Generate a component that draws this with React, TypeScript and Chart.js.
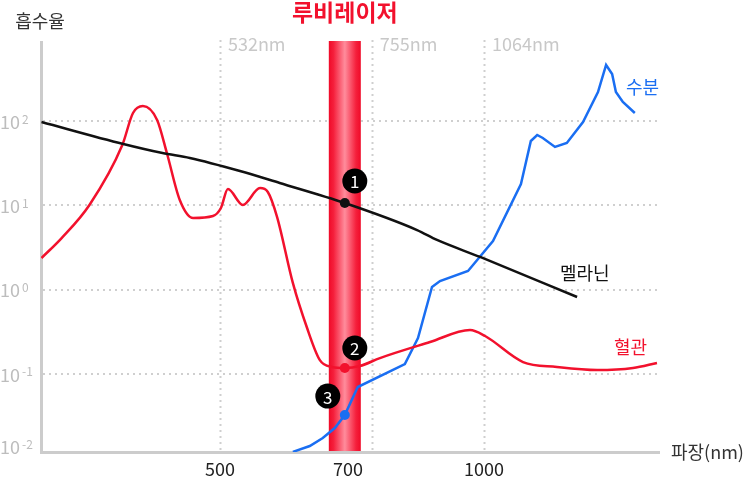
import React, { useEffect, useRef } from "react";
import { Chart, registerables } from "chart.js";

Chart.register(...registerables);

// Wavelength (nm) and absorption (log scale)
const melaninNm = [313, 388, 430, 462, 527, 585, 694, 839, 884, 990, 1277];
const melaninAbs = [97.3, 53.4, 41.7, 36.4, 25.5, 18.4, 10.65, 5.09, 3.88, 2.44, 0.817];

const bloodNm = [313, 330, 355, 387, 398, 408.5, 424, 435, 450, 466, 491, 501.3, 510.6, 531, 555.5, 567, 581, 605.5, 628, 650, 671, 694, 722, 761, 868, 964, 1003, 1108, 1211, 1346, 1479, 1575];
const bloodAbs = [2.37, 4.09, 10.1, 51.9, 124.4, 150.6, 102.8, 41.7, 11.56, 7.07, 7.46, 9.29, 15.6, 10.1, 16.0, 14.4, 7.26, 1.2, 0.36, 0.146, 0.121, 0.1175, 0.124, 0.1543, 0.239, 0.332, 0.2816, 0.1384, 0.121, 0.1112, 0.1175, 0.1347];

const waterNm = [605.5, 633, 655, 676, 694, 718, 812.5, 841, 872.5, 891, 959, 1024, 1102, 1131, 1150, 1167, 1205, 1243, 1297, 1349, 1378, 1400, 1414, 1440, 1486];
const waterAbs = [0.0119, 0.01396, 0.01738, 0.0228, 0.03254, 0.0699, 0.131, 0.2667, 1.074, 1.265, 1.663, 3.77, 17.9, 57.9, 68.2, 62.9, 49.2, 54.8, 97.3, 220.8, 461.6, 361, 220.8, 168, 124.4];

const yGridValues = [100, 10, 1, 0.1, 0.01];
const yGridExps = ["2", "1", "0", "-1", "-2"];

const refLineNm = [500, 745, 1000];
const refLineLabels = ["532nm", "755nm", "1064nm"];

const xTickNm = [500, 700, 1000];
const xTickLabels = ["500", "700", "1000"];

const laserNm = 694;
const laserTitle = "루비레이저";
const markerValues = [10.65, 0.1175, 0.0325];
const markerNumbers = ["1", "2", "3"];

const seriesNames = ["멜라닌", "혈관", "수분"];
const yTitle = "흡수율";
const xTitle = "파장(nm)";

const FONT = '"Noto Sans CJK KR", "Noto Sans", sans-serif';
const BLACK = "#111111";
const RED = "#f2112d";
const BLUE = "#1a6ef2";
const GRID = "#cfcfcf";

const decor = {
  id: "decor",
  beforeDatasetsDraw(chart: any) {
    const { ctx, chartArea, scales } = chart;
    const xs = scales.x;
    const ys = scales.y;
    ctx.save();
    // horizontal dotted grid
    ctx.strokeStyle = GRID;
    ctx.lineWidth = 2;
    ctx.setLineDash([2, 4]);
    yGridValues.forEach((v) => {
      const y = Math.round(ys.getPixelForValue(v));
      if (y > chartArea.bottom - 4) return;
      ctx.beginPath();
      ctx.moveTo(chartArea.left + 2, y);
      ctx.lineTo(chartArea.right, y);
      ctx.stroke();
    });
    // vertical reference lines
    refLineNm.forEach((nm) => {
      const x = Math.round(xs.getPixelForValue(nm)) + 0.5;
      ctx.beginPath();
      ctx.moveTo(x, 40);
      ctx.lineTo(x, chartArea.bottom);
      ctx.stroke();
    });
    ctx.setLineDash([]);
    // laser band
    const lx = xs.getPixelForValue(laserNm);
    const w = 32;
    const g = ctx.createLinearGradient(lx - w / 2, 0, lx + w / 2, 0);
    g.addColorStop(0, "#f00a28");
    g.addColorStop(0.15, "#f5203c");
    g.addColorStop(0.5, "#ff8c9c");
    g.addColorStop(0.85, "#f5203c");
    g.addColorStop(1, "#f00a28");
    ctx.fillStyle = g;
    ctx.fillRect(lx - w / 2, 41, w, chartArea.bottom - 41);
    // axes
    ctx.fillStyle = "#cccccc";
    ctx.fillRect(40, 41, 3, chartArea.bottom - 41 + 2);
    ctx.fillRect(40, chartArea.bottom - 1, chartArea.right - 40, 3);
    ctx.restore();
  },
  afterDatasetsDraw(chart: any) {
    const { ctx, chartArea, scales } = chart;
    const xs = scales.x;
    const ys = scales.y;
    ctx.save();
    // y tick labels
    ctx.fillStyle = "#bdbdbd";
    yGridValues.forEach((v, i) => {
      let y = ys.getPixelForValue(v);
      if (y > chartArea.bottom - 6) y = chartArea.bottom - 6;
      ctx.textBaseline = "middle";
      ctx.textAlign = "left";
      ctx.font = `18px ${FONT}`;
      ctx.fillText("10", 0, y + 1);
      ctx.font = `12px ${FONT}`;
      ctx.fillText(yGridExps[i], 22, y - 2);
    });
    // x tick labels
    ctx.fillStyle = "#222222";
    ctx.font = `18px ${FONT}`;
    ctx.textAlign = "center";
    ctx.textBaseline = "middle";
    xTickNm.forEach((nm, i) => {
      ctx.fillText(xTickLabels[i], xs.getPixelForValue(nm), 469);
    });
    // axis titles
    ctx.fillStyle = "#333333";
    ctx.font = `18px ${FONT}`;
    ctx.fillText(yTitle, 40, 21);
    ctx.textAlign = "left";
    ctx.fillText(xTitle, 671, 452);
    // reference line labels
    ctx.fillStyle = "#c8c8c8";
    refLineNm.forEach((nm, i) => {
      ctx.fillText(refLineLabels[i], xs.getPixelForValue(nm) + 8, 44);
    });
    // laser title
    ctx.fillStyle = RED;
    ctx.font = `bold 23px ${FONT}`;
    ctx.textAlign = "center";
    ctx.fillText(laserTitle, xs.getPixelForValue(laserNm), 12);
    // markers
    const lx = xs.getPixelForValue(laserNm);
    const colors = [BLACK, RED, BLUE];
    const badgeOffsets = [
      [10, -22],
      [10, -20],
      [-17, -19],
    ];
    markerValues.forEach((v, i) => {
      const y = ys.getPixelForValue(v);
      ctx.fillStyle = colors[i];
      ctx.beginPath();
      ctx.arc(lx, y, 5, 0, Math.PI * 2);
      ctx.fill();
      const bx = lx + badgeOffsets[i][0];
      const by = y + badgeOffsets[i][1];
      ctx.fillStyle = "#000000";
      ctx.beginPath();
      ctx.arc(bx, by, 12.5, 0, Math.PI * 2);
      ctx.fill();
      ctx.fillStyle = "#ffffff";
      ctx.font = `17px ${FONT}`;
      ctx.textAlign = "center";
      ctx.textBaseline = "middle";
      ctx.fillText(markerNumbers[i], bx, by + 1);
    });
    // series labels
    ctx.font = `18px ${FONT}`;
    ctx.textAlign = "left";
    ctx.fillStyle = BLACK;
    ctx.fillText(seriesNames[0], 560, 273);
    ctx.fillStyle = RED;
    ctx.fillText(seriesNames[1], 614, 347);
    ctx.fillStyle = BLUE;
    ctx.fillText(seriesNames[2], 626, 87);
    ctx.restore();
  },
};

export default function App() {
  const ref = useRef<HTMLCanvasElement | null>(null);
  useEffect(() => {
    if (!ref.current) return;
    const chart = new Chart(ref.current, {
      type: "line",
      data: {
        datasets: [
          {
            label: seriesNames[0],
            data: melaninNm.map((x, i) => ({ x, y: melaninAbs[i] })),
            borderColor: BLACK,
            borderWidth: 2.5,
            pointRadius: 0,
            cubicInterpolationMode: "monotone",
          },
          {
            label: seriesNames[1],
            data: bloodNm.map((x, i) => ({ x, y: bloodAbs[i] })),
            borderColor: RED,
            borderWidth: 2.5,
            pointRadius: 0,
            cubicInterpolationMode: "monotone",
          },
          {
            label: seriesNames[2],
            data: waterNm.map((x, i) => ({ x, y: waterAbs[i] })),
            borderColor: BLUE,
            borderWidth: 2.5,
            pointRadius: 0,
            tension: 0,
          },
        ],
      } as any,
      options: {
        responsive: false,
        animation: false,
        events: [],
        layout: { padding: { left: 41, top: 42, right: 85, bottom: 26 } },
        plugins: { legend: { display: false }, tooltip: { enabled: false } },
        scales: {
          x: { type: "logarithmic", min: 312.6, max: 1587.5, display: false, bounds: "data" },
          y: { type: "logarithmic", min: 0.01186, max: 865, display: false, bounds: "data" },
        },
      } as any,
      plugins: [decor],
    });
    return () => chart.destroy();
  }, []);
  return (
    <div style={{ position: "fixed", left: 0, top: 0, width: 745, height: 478, background: "#ffffff" }}>
      <canvas ref={ref} width={745} height={478} style={{ display: "block" }} />
    </div>
  );
}
